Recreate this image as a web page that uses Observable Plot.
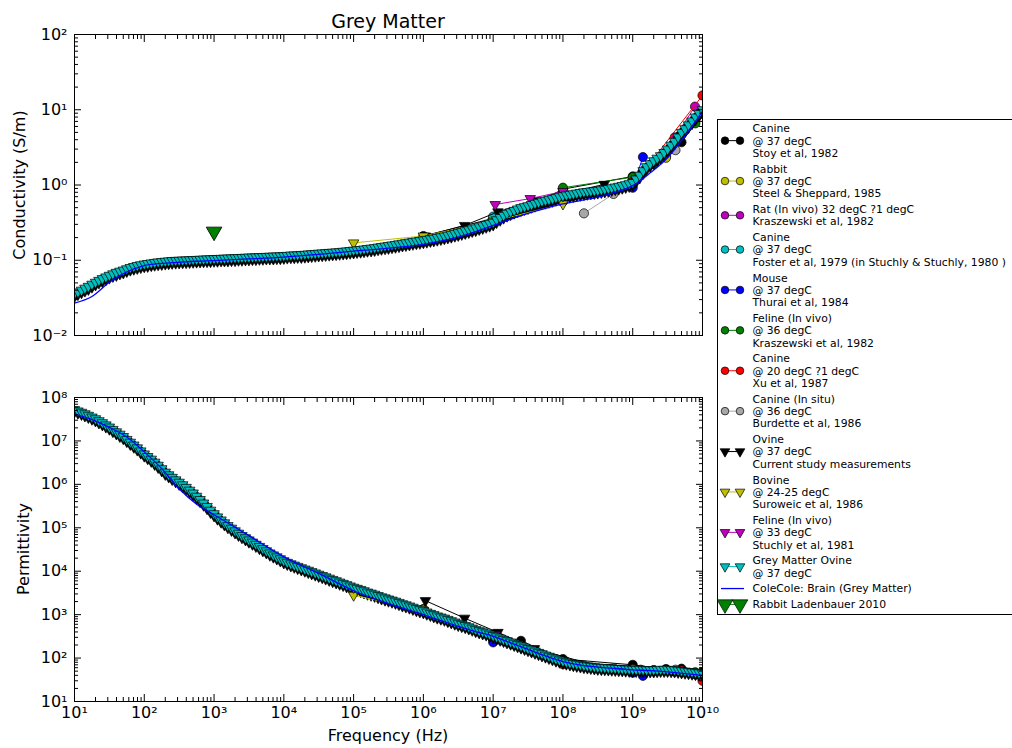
<!DOCTYPE html>
<html>
<head>
<meta charset="utf-8">
<script src="https://cdn.jsdelivr.net/npm/d3@7"></script>
<script src="https://cdn.jsdelivr.net/npm/@observablehq/plot@0.6"></script>
<style>
  body { margin: 0; background: #fff; }
  #fig { position: relative; width: 1012px; height: 748px; overflow: hidden; background: #fff;
         font-family: "DejaVu Sans", sans-serif; color: #000; }
  #fig > svg { position: absolute; }
  .lbl { position: absolute; white-space: nowrap; line-height: 1; }
</style>
</head>
<body>
<div id="fig"></div>
<script>
// ---------------------------------------------------------------------------
// Axis ticks and labels
const freqTicks = [1e1, 1e2, 1e3, 1e4, 1e5, 1e6, 1e7, 1e8, 1e9, 1e10];
const freqTickLabels = ["10¹", "10²", "10³", "10⁴", "10⁵", "10⁶", "10⁷", "10⁸", "10⁹", "10¹⁰"];
const sigmaTicks = [1e-2, 1e-1, 1e0, 1e1, 1e2];
const sigmaTickLabels = ["10⁻²", "10⁻¹", "10⁰", "10¹", "10²"];
const epsTicks = [1e1, 1e2, 1e3, 1e4, 1e5, 1e6, 1e7, 1e8];
const epsTickLabels = ["10¹", "10²", "10³", "10⁴", "10⁵", "10⁶", "10⁷", "10⁸"];

// ---------------------------------------------------------------------------
// Ovine sweep frequencies (10 Hz – 10 GHz, 20 per decade)
const sweepHz = [
  1e1, 1.12e1, 1.26e1, 1.41e1, 1.58e1, 1.78e1, 2e1, 2.24e1, 2.51e1, 2.82e1, 3.16e1, 3.55e1, 3.98e1, 4.47e1, 5.01e1, 5.62e1, 6.31e1, 7.08e1, 7.94e1, 8.91e1,
  1e2, 1.12e2, 1.26e2, 1.41e2, 1.58e2, 1.78e2, 2e2, 2.24e2, 2.51e2, 2.82e2, 3.16e2, 3.55e2, 3.98e2, 4.47e2, 5.01e2, 5.62e2, 6.31e2, 7.08e2, 7.94e2, 8.91e2,
  1e3, 1.12e3, 1.26e3, 1.41e3, 1.58e3, 1.78e3, 2e3, 2.24e3, 2.51e3, 2.82e3, 3.16e3, 3.55e3, 3.98e3, 4.47e3, 5.01e3, 5.62e3, 6.31e3, 7.08e3, 7.94e3, 8.91e3,
  1e4, 1.12e4, 1.26e4, 1.41e4, 1.58e4, 1.78e4, 2e4, 2.24e4, 2.51e4, 2.82e4, 3.16e4, 3.55e4, 3.98e4, 4.47e4, 5.01e4, 5.62e4, 6.31e4, 7.08e4, 7.94e4, 8.91e4,
  1e5, 1.12e5, 1.26e5, 1.41e5, 1.58e5, 1.78e5, 2e5, 2.24e5, 2.51e5, 2.82e5, 3.16e5, 3.55e5, 3.98e5, 4.47e5, 5.01e5, 5.62e5, 6.31e5, 7.08e5, 7.94e5, 8.91e5,
  1e6, 1.12e6, 1.26e6, 1.41e6, 1.58e6, 1.78e6, 2e6, 2.24e6, 2.51e6, 2.82e6, 3.16e6, 3.55e6, 3.98e6, 4.47e6, 5.01e6, 5.62e6, 6.31e6, 7.08e6, 7.94e6, 8.91e6,
  1e7, 1.12e7, 1.26e7, 1.41e7, 1.58e7, 1.78e7, 2e7, 2.24e7, 2.51e7, 2.82e7, 3.16e7, 3.55e7, 3.98e7, 4.47e7, 5.01e7, 5.62e7, 6.31e7, 7.08e7, 7.94e7, 8.91e7,
  1e8, 1.12e8, 1.26e8, 1.41e8, 1.58e8, 1.78e8, 2e8, 2.24e8, 2.51e8, 2.82e8, 3.16e8, 3.55e8, 3.98e8, 4.47e8, 5.01e8, 5.62e8, 6.31e8, 7.08e8, 7.94e8, 8.91e8,
  1e9, 1.12e9, 1.26e9, 1.41e9, 1.58e9, 1.78e9, 2e9, 2.24e9, 2.51e9, 2.82e9, 3.16e9, 3.55e9, 3.98e9, 4.47e9, 5.01e9, 5.62e9, 6.31e9, 7.08e9, 7.94e9, 8.91e9,
  1e10
];
// Grey Matter Ovine @ 37 degC – conductivity (S/m)
const greyOvineSigma = [
  0.036, 0.038, 0.040, 0.0425, 0.045, 0.048, 0.051, 0.054, 0.057, 0.060, 0.063, 0.066, 0.069, 0.0715, 0.074, 0.077, 0.080, 0.0825, 0.085, 0.087,
  0.089, 0.0905, 0.092, 0.0935, 0.095, 0.096, 0.097, 0.098, 0.099, 0.0995, 0.100, 0.1005, 0.101, 0.1015, 0.102, 0.1025, 0.103, 0.1035, 0.104, 0.1045,
  0.105, 0.1055, 0.106, 0.1065, 0.107, 0.1075, 0.108, 0.1085, 0.109, 0.1095, 0.110, 0.1105, 0.111, 0.1115, 0.112, 0.1125, 0.113, 0.1135, 0.114, 0.1145,
  0.115, 0.116, 0.117, 0.1175, 0.118, 0.119, 0.120, 0.121, 0.122, 0.123, 0.124, 0.125, 0.126, 0.127, 0.128, 0.129, 0.130, 0.1315, 0.133, 0.1345,
  0.136, 0.1375, 0.139, 0.141, 0.143, 0.145, 0.147, 0.1495, 0.152, 0.1545, 0.157, 0.1595, 0.162, 0.165, 0.168, 0.171, 0.174, 0.177, 0.180, 0.183,
  0.186, 0.1895, 0.193, 0.197, 0.201, 0.2055, 0.210, 0.2155, 0.221, 0.227, 0.233, 0.240, 0.247, 0.2545, 0.262, 0.270, 0.279, 0.288, 0.298, 0.309,
  0.320, 0.345, 0.370, 0.395, 0.420, 0.440, 0.460, 0.480, 0.500, 0.515, 0.530, 0.550, 0.570, 0.590, 0.610, 0.625, 0.640, 0.660, 0.680, 0.700,
  0.720, 0.735, 0.750, 0.765, 0.780, 0.795, 0.810, 0.820, 0.830, 0.840, 0.850, 0.865, 0.880, 0.900, 0.920, 0.940, 0.960, 0.985, 1.010, 1.040,
  1.08, 1.20, 1.35, 1.55, 1.75, 1.92, 2.10, 2.27, 2.45, 2.70, 3.00, 3.38, 3.80, 4.35, 5.00, 5.60, 6.30, 7.10, 8.00, 8.95,
  10.0
];
// Grey Matter Ovine @ 37 degC – relative permittivity
const greyOvineEps = [
  5.25e7, 4.90e7, 4.57e7, 4.22e7, 3.89e7, 3.55e7, 3.24e7, 2.92e7, 2.63e7, 2.34e7, 2.09e7, 1.84e7, 1.62e7, 1.43e7, 1.26e7, 1.08e7, 9.33e6, 8.04e6, 6.92e6, 5.89e6,
  5.01e6, 4.37e6, 3.80e6, 3.24e6, 2.75e6, 2.29e6, 1.91e6, 1.66e6, 1.45e6, 1.27e6, 1.12e6, 9.77e5, 8.51e5, 7.33e5, 6.31e5, 5.31e5, 4.47e5, 3.72e5, 3.09e5, 2.54e5,
  2.11e5, 1.78e5, 1.51e5, 1.30e5, 1.12e5, 9.77e4, 8.51e4, 7.50e4, 6.61e4, 5.89e4, 5.25e4, 4.68e4, 4.17e4, 3.72e4, 3.31e4, 2.95e4, 2.63e4, 2.37e4, 2.14e4, 1.93e4,
  1.74e4, 1.60e4, 1.48e4, 1.38e4, 1.29e4, 1.20e4, 1.12e4, 1.05e4, 9.77e3, 9.12e3, 8.51e3, 7.94e3, 7.41e3, 6.92e3, 6.46e3, 6.03e3, 5.62e3, 5.25e3, 4.90e3, 4.57e3,
  4.27e3, 4.03e3, 3.80e3, 3.55e3, 3.31e3, 3.13e3, 2.95e3, 2.75e3, 2.57e3, 2.43e3, 2.29e3, 2.16e3, 2.04e3, 1.91e3, 1.78e3, 1.68e3, 1.58e3, 1.48e3, 1.38e3, 1.30e3,
  1.23e3, 1.15e3, 1.07e3, 1.00e3, 933, 881, 832, 776, 724, 676, 631, 596, 562, 525, 490, 457, 427, 403, 380, 355,
  331, 309, 288, 269, 251, 234, 219, 204, 191, 178, 166, 155, 145, 135, 126, 117, 110, 102, 95.5, 90.2,
  85.1, 81.3, 77.6, 75.0, 72.4, 70.0, 67.6, 66.1, 64.6, 63.1, 61.7, 61.0, 60.3, 59.6, 58.9, 58.2, 57.5, 56.9, 56.2, 55.6,
  55.0, 55.0, 55.0, 54.3, 53.7, 53.7, 53.7, 54.3, 55.0, 55.0, 55.0, 54.3, 53.7, 52.5, 51.3, 50.1, 49.0, 47.9, 46.8, 45.7,
  44.7
];
// Ovine @ 37 degC, current study measurements – conductivity (S/m)
const ovineSigma = [
  0.033, 0.035, 0.037, 0.039, 0.041, 0.044, 0.047, 0.050, 0.052, 0.055, 0.058, 0.061, 0.063, 0.066, 0.068, 0.071, 0.074, 0.076, 0.078, 0.080,
  0.082, 0.083, 0.085, 0.086, 0.087, 0.088, 0.089, 0.090, 0.091, 0.0915, 0.092, 0.0925, 0.093, 0.0935, 0.094, 0.0945, 0.095, 0.0955, 0.096, 0.096,
  0.097, 0.097, 0.098, 0.098, 0.098, 0.099, 0.099, 0.100, 0.100, 0.101, 0.101, 0.102, 0.102, 0.103, 0.103, 0.104, 0.104, 0.104, 0.105, 0.105,
  0.106, 0.107, 0.108, 0.108, 0.109, 0.109, 0.110, 0.111, 0.112, 0.113, 0.114, 0.115, 0.116, 0.117, 0.118, 0.119, 0.120, 0.121, 0.122, 0.124,
  0.125, 0.127, 0.128, 0.130, 0.132, 0.133, 0.135, 0.138, 0.140, 0.142, 0.144, 0.147, 0.149, 0.152, 0.155, 0.157, 0.160, 0.163, 0.166, 0.168,
  0.171, 0.174, 0.178, 0.181, 0.185, 0.189, 0.193, 0.198, 0.203, 0.209, 0.214, 0.221, 0.227, 0.234, 0.241, 0.248, 0.257, 0.265, 0.274, 0.284,
  0.294, 0.317, 0.340, 0.363, 0.386, 0.405, 0.423, 0.442, 0.460, 0.474, 0.488, 0.506, 0.524, 0.543, 0.561, 0.575, 0.589, 0.607, 0.626, 0.644,
  0.662, 0.676, 0.690, 0.704, 0.718, 0.731, 0.745, 0.754, 0.764, 0.773, 0.782, 0.796, 0.810, 0.828, 0.846, 0.865, 0.883, 0.906, 0.929, 0.957,
  0.994, 1.10, 1.24, 1.43, 1.61, 1.77, 1.93, 2.09, 2.25, 2.48, 2.76, 3.11, 3.50, 4.00, 4.60, 5.15, 5.80, 6.53, 7.36, 8.23,
  9.20
];
// Ovine @ 37 degC, current study measurements – relative permittivity
const ovineEps = [
  4.68e7, 4.37e7, 4.07e7, 3.76e7, 3.47e7, 3.16e7, 2.88e7, 2.60e7, 2.34e7, 2.09e7, 1.86e7, 1.64e7, 1.45e7, 1.27e7, 1.12e7, 9.66e6, 8.32e6, 7.16e6, 6.17e6, 5.25e6,
  4.47e6, 3.89e6, 3.39e6, 2.88e6, 2.45e6, 2.04e6, 1.70e6, 1.48e6, 1.29e6, 1.14e6, 1.00e6, 8.71e5, 7.59e5, 6.53e5, 5.62e5, 4.73e5, 3.98e5, 3.31e5, 2.75e5, 2.26e5,
  1.88e5, 1.58e5, 1.35e5, 1.16e5, 1.00e5, 8.71e4, 7.59e4, 6.68e4, 5.89e4, 5.25e4, 4.68e4, 4.17e4, 3.72e4, 3.31e4, 2.95e4, 2.63e4, 2.34e4, 2.11e4, 1.91e4, 1.72e4,
  1.55e4, 1.43e4, 1.32e4, 1.23e4, 1.15e4, 1.07e4, 1.00e4, 9.33e3, 8.71e3, 8.13e3, 7.59e3, 7.08e3, 6.61e3, 6.17e3, 5.75e3, 5.37e3, 5.01e3, 4.68e3, 4.37e3, 4.07e3,
  3.80e3, 3.59e3, 3.39e3, 3.16e3, 2.95e3, 2.79e3, 2.63e3, 2.45e3, 2.29e3, 2.16e3, 2.04e3, 1.93e3, 1.82e3, 1.70e3, 1.58e3, 1.50e3, 1.41e3, 1.32e3, 1.23e3, 1.16e3,
  1.10e3, 1.02e3, 955, 891, 832, 785, 741, 692, 646, 603, 562, 531, 501, 468, 437, 407, 380, 359, 339, 316,
  295, 275, 257, 240, 224, 209, 195, 182, 170, 158, 148, 138, 129, 120, 112, 105, 97.7, 91.2, 85.1, 80.4,
  75.9, 72.4, 69.2, 66.8, 64.6, 62.4, 60.3, 58.9, 57.5, 56.2, 55.0, 54.3, 53.7, 53.1, 52.5, 51.9, 51.3, 50.7, 50.1, 49.5,
  49.0, 49.0, 49.0, 48.4, 47.9, 47.9, 47.9, 48.4, 49.0, 49.0, 49.0, 48.4, 47.9, 46.8, 45.7, 44.7, 43.7, 42.7, 41.7, 40.7,
  39.8
];
// Ovine spot measurements
const ovineSpotHz = [1.07e6, 3.9e6, 1.17e7, 3.9e7, 3.9e8];
const ovineSpotSigma = [0.21, 0.29, 0.44, 0.62, 1.02];
const ovineSpotEps = [2100, 830, 390, 165, 60];

// ---------------------------------------------------------------------------
// Literature data
const stoyHz = [1e6, 1e7, 2.5e7, 1e8, 1e9, 3e9, 5e9, 1e10];
const stoySigma = [0.21, 0.36, 0.46, 0.88, 1.30, 2.4, 3.7, 8.8];
const stoyEps = [1350, 270, 250, 95, 70, 56, 57, 48];

const steelHz = [1e6, 1e7, 1e8, 1e9, 3e9];
const steelSigma = [0.20, 0.33, 0.72, 1.10, 2.3];
const steelEps = [1300, 330, 88, 55, 52];

const ratHz = [2e9, 4e9, 7.8e9];
const ratSigma = [1.9, 4.3, 11.0];
const ratEps = [52, 50, 46];

const fosterHz = [1e7, 1e8, 1e9];
const fosterSigma = [0.38, 0.74, 1.10];
const fosterEps = [340, 88, 56];

const thuraiHz = [1e7, 1e8, 1e9, 1.4e9];
const thuraiSigma = [0.31, 0.60, 0.92, 2.35];
const thuraiEps = [230, 80, 46, 39];

const felineKHz = [1e8, 1e9, 2e9, 4e9, 7.9e9];
const felineKSigma = [0.92, 1.27, 1.9, 3.5, 6.6];
const felineKEps = [85, 56, 53, 50, 47];

const xuSigmaHz = [1e8, 1e9, 1.3e9, 1e10];
const xuSigma = [0.72, 1.10, 1.35, 15.5];
const xuEpsHz = [1e8, 1e9, 1.3e9, 5e9, 8e9, 1e10];
const xuEps = [72, 56, 54, 52, 42, 30];

const burdetteHz = [2e8, 5.3e8, 1e9, 4.1e9];
const burdetteSigma = [0.42, 0.76, 1.05, 2.9];
const burdetteEps = [68, 58, 55, 54];

const suroweicHz = [1e5, 1e6, 1e7, 1e8];
const suroweicSigma = [0.17, 0.21, 0.33, 0.56];
const suroweicEps = [2800, 1250, 320, 88];

const stuchlyHz = [1.07e7, 3.4e7, 1e8];
const stuchlySigma = [0.55, 0.66, 0.82];
const stuchlyEps = [350, 160, 88];

const ladenbauerHz = [1e3];
const ladenbauerSigma = [0.24];

// Cole-Cole model, brain grey matter
const coleHz = [
  10, 17.8, 31.6, 56.2, 100, 178, 316, 562, 1e3, 3.16e3, 1e4, 3.16e4, 1e5, 3.16e5,
  1e6, 1.78e6, 3.16e6, 5.62e6, 1e7, 1.78e7, 3.16e7, 5.62e7,
  1e8, 1.78e8, 3.16e8, 5.62e8, 1e9, 1.78e9, 3.16e9, 5.62e9, 1e10
];
const coleSigma = [
  0.027, 0.033, 0.051, 0.070, 0.085, 0.091, 0.094, 0.097, 0.099, 0.104, 0.110, 0.120, 0.132, 0.145,
  0.163, 0.180, 0.203, 0.240, 0.290, 0.350, 0.420, 0.490,
  0.560, 0.620, 0.690, 0.800, 0.980, 1.45, 2.30, 4.50, 9.50
];
const coleEps = [
  4.2e7, 3.1e7, 2.05e7, 1.23e7, 5.6e6, 2.3e6, 7.9e5, 3.5e5, 2.0e5, 6.6e4, 2.14e4, 8.9e3, 3.55e3, 1.8e3,
  1.0e3, 724, 537, 407, 316, 224, 158, 112,
  83, 69, 62, 57.5, 53.7, 51.3, 47.9, 43.7, 39.8
];

// ---------------------------------------------------------------------------
// Series styling, in drawing order
const zip = (fs, vs) => fs.map((f, i) => ({f, v: vs[i]}));
const Y = "#bfbf00", M = "#bf00bf", C = "#00bfbf", G = "#008000", GREY = "#a8a8a8";

const series = [
  {name: ["Canine", "@ 37 degC", "Stoy et al, 1982"], color: "#000", marker: "circle",
   sigma: zip(stoyHz, stoySigma), eps: zip(stoyHz, stoyEps)},
  {name: ["Rabbit", "@ 37 degC", "Steel & Sheppard, 1985"], color: Y, marker: "circle",
   sigma: zip(steelHz, steelSigma), eps: zip(steelHz, steelEps)},
  {name: ["Rat (In vivo) 32 degC ?1 degC", "Kraszewski et al, 1982"], color: M, marker: "circle",
   sigma: zip(ratHz, ratSigma), eps: zip(ratHz, ratEps)},
  {name: ["Canine", "@ 37 degC", "Foster et al, 1979 (in Stuchly & Stuchly, 1980 )"], color: C, marker: "circle",
   sigma: zip(fosterHz, fosterSigma), eps: zip(fosterHz, fosterEps)},
  {name: ["Mouse", "@ 37 degC", "Thurai et al, 1984"], color: "#0000ff", marker: "circle",
   sigma: zip(thuraiHz, thuraiSigma), eps: zip(thuraiHz, thuraiEps)},
  {name: ["Feline (In vivo)", "@ 36 degC", "Kraszewski et al, 1982"], color: G, marker: "circle",
   sigma: zip(felineKHz, felineKSigma), eps: zip(felineKHz, felineKEps)},
  {name: ["Canine", "@ 20 degC ?1 degC", "Xu et al, 1987"], color: "#ff0000", marker: "circle",
   sigma: zip(xuSigmaHz, xuSigma), eps: zip(xuEpsHz, xuEps)},
  {name: ["Canine (In situ)", "@ 36 degC", "Burdette et al, 1986"], color: GREY, marker: "circle",
   sigma: zip(burdetteHz, burdetteSigma), eps: zip(burdetteHz, burdetteEps)},
  {name: ["Ovine", "@ 37 degC", "Current study measurements"], color: "#000", marker: "triangle",
   sigma: zip(sweepHz, ovineSigma), eps: zip(sweepHz, ovineEps),
   extra: {sigma: zip(ovineSpotHz, ovineSpotSigma), eps: zip(ovineSpotHz, ovineSpotEps)}},
  {name: ["Bovine", "@ 24-25 degC", "Suroweic et al, 1986"], color: Y, marker: "triangle",
   sigma: zip(suroweicHz, suroweicSigma), eps: zip(suroweicHz, suroweicEps)},
  {name: ["Feline (In vivo)", "@ 33 degC", "Stuchly et al, 1981"], color: M, marker: "triangle",
   sigma: zip(stuchlyHz, stuchlySigma), eps: zip(stuchlyHz, stuchlyEps)},
  {name: ["Grey Matter Ovine", "@ 37 degC"], color: C, marker: "triangle",
   sigma: zip(sweepHz, greyOvineSigma), eps: zip(sweepHz, greyOvineEps)},
  {name: ["ColeCole: Brain (Grey Matter)"], color: "#0000ff", marker: "line",
   sigma: zip(coleHz, coleSigma), eps: zip(coleHz, coleEps)},
  {name: ["Rabbit Ladenbauer 2010"], color: G, marker: "bigtriangle",
   sigma: zip(ladenbauerHz, ladenbauerSigma), eps: []}
];

// ---------------------------------------------------------------------------
function seriesMarks(s, rows) {
  const out = [];
  if (!rows.length) return out;
  if (rows.length > 1) {
    out.push(Plot.line(rows, {x: "f", y: "v", stroke: s.color,
      strokeWidth: s.marker === "line" ? 1.3 : 1,
      curve: s.marker === "line" ? "monotone-x" : "linear", clip: true}));
  }
  if (s.marker === "circle") {
    out.push(Plot.dot(rows, {x: "f", y: "v", r: 4.6, fill: s.color, stroke: "#000",
      strokeWidth: 0.7, clip: true}));
  } else if (s.marker === "triangle") {
    out.push(Plot.dot(rows, {x: "f", y: "v", symbol: "triangle", r: 3.9, rotate: 180,
      fill: s.color, stroke: "#000", strokeWidth: 0.7, clip: true}));
  } else if (s.marker === "bigtriangle") {
    out.push(Plot.dot(rows, {x: "f", y: "v", symbol: "triangle", r: 5.8, rotate: 180,
      fill: s.color, stroke: "#000", strokeWidth: 0.8, clip: true}));
  }
  return out;
}

function minorTicks(lo, hi) {
  const t = [];
  for (let e = lo; e < hi; e++) for (let m = 2; m <= 9; m++) t.push(m * Math.pow(10, e));
  return t;
}

function panel({key, yTicks, yLabels, yLo, yHi, height, marginTop, marginBottom, xLabels}) {
  const xFmt = new Map(freqTicks.map((d, i) => [d, freqTickLabels[i]]));
  const yFmt = new Map(yTicks.map((d, i) => [d, yLabels[i]]));
  const marks = [];
  for (const s of series) {
    marks.push(...seriesMarks(s, s[key]));
    if (s.extra) marks.push(...seriesMarks(s, s.extra[key]));
  }
  const tick = (o) => ({tickFormat: null, fill: "none", label: null, strokeWidth: 1, ...o});
  marks.push(
    Plot.frame({stroke: "#000", strokeWidth: 1}),
    // inward major / minor ticks on all four sides
    Plot.axisX(tick({anchor: "bottom", ticks: freqTicks, tickSize: -7})),
    Plot.axisX(tick({anchor: "top", ticks: freqTicks, tickSize: -7})),
    Plot.axisX(tick({anchor: "bottom", ticks: minorTicks(1, 10), tickSize: -4})),
    Plot.axisX(tick({anchor: "top", ticks: minorTicks(1, 10), tickSize: -4})),
    Plot.axisY(tick({anchor: "left", ticks: yTicks, tickSize: -7})),
    Plot.axisY(tick({anchor: "right", ticks: yTicks, tickSize: -7})),
    Plot.axisY(tick({anchor: "left", ticks: minorTicks(yLo, yHi), tickSize: -4})),
    Plot.axisY(tick({anchor: "right", ticks: minorTicks(yLo, yHi), tickSize: -4})),
    Plot.axisY({anchor: "left", ticks: yTicks, tickSize: 0, tickPadding: 7,
      tickFormat: (d) => yFmt.get(d), label: null, fontSize: 16})
  );
  if (xLabels) {
    marks.push(Plot.axisX({anchor: "bottom", ticks: freqTicks, tickSize: 0, tickPadding: 5.5,
      tickFormat: (d) => xFmt.get(d), label: null, fontSize: 16}));
  }
  return Plot.plot({
    width: 720, height,
    marginLeft: 74, marginRight: 18, marginTop, marginBottom,
    style: {fontFamily: "'DejaVu Sans', sans-serif", fontSize: "16px", overflow: "visible",
            background: "transparent", color: "#000"},
    x: {type: "log", domain: [1e1, 1e10]},
    y: {type: "log", domain: [Math.pow(10, yLo), Math.pow(10, yHi)]},
    marks
  });
}

const fig = document.getElementById("fig");

const sigmaPanel = panel({key: "sigma", yTicks: sigmaTicks, yLabels: sigmaTickLabels, yLo: -2, yHi: 2,
  height: 360, marginTop: 34, marginBottom: 25, xLabels: false});
sigmaPanel.style.left = "0px"; sigmaPanel.style.top = "0px";
fig.appendChild(sigmaPanel);

const epsPanel = panel({key: "eps", yTicks: epsTicks, yLabels: epsTickLabels, yLo: 1, yHi: 8,
  height: 370, marginTop: 27, marginBottom: 39, xLabels: true});
epsPanel.style.left = "0px"; epsPanel.style.top = "370px";
fig.appendChild(epsPanel);

// ---------------------------------------------------------------------------
// Titles and axis labels
function label(text, x, y, size, rotate) {
  const d = document.createElement("div");
  d.className = "lbl";
  d.textContent = text;
  d.style.fontSize = size + "px";
  d.style.left = x + "px";
  d.style.top = y + "px";
  d.style.transform = `translate(-50%, -50%)${rotate ? " rotate(-90deg)" : ""}`;
  fig.appendChild(d);
}
label("Grey Matter", 388, 21, 19, false);
label("Conductivity (S/m)", 20, 185, 16, true);
label("Permittivity", 24, 549, 16, true);
label("Frequency (Hz)", 388, 736, 16, false);

// ---------------------------------------------------------------------------
// Legend
const LX = 717, LY = 119, LW = 300, LH = 496;
const lineH = 12.3, gap = 3.5, fs = 10.8;
const leg = d3.create("svg")
  .attr("width", LW).attr("height", LH)
  .style("left", LX + "px").style("top", LY + "px")
  .style("font-family", "'DejaVu Sans', sans-serif").style("font-size", fs + "px");
leg.append("rect").attr("x", 0.5).attr("y", 0.5).attr("width", LW).attr("height", LH - 1)
  .attr("fill", "#fff").attr("stroke", "#000").attr("stroke-width", 1);

let yCur = 3.2;
const sym = d3.symbol();
for (const s of series) {
  const n = s.name.length;
  const h = n * lineH;
  const cy = yCur + h / 2;
  const g = leg.append("g");
  const m1 = 8, m2 = 23;
  if (s.marker === "line") {
    g.append("line").attr("x1", 4).attr("x2", 27).attr("y1", cy).attr("y2", cy)
      .attr("stroke", s.color).attr("stroke-width", 1.3);
  } else {
    g.append("line").attr("x1", m1).attr("x2", m2).attr("y1", cy).attr("y2", cy)
      .attr("stroke", s.color).attr("stroke-width", 1);
    for (const mx of [m1, m2]) {
      if (s.marker === "circle") {
        g.append("circle").attr("cx", mx).attr("cy", cy).attr("r", 3.8)
          .attr("fill", s.color).attr("stroke", "#000").attr("stroke-width", 0.7);
      } else {
        const r = s.marker === "bigtriangle" ? 5.8 : 3.6;
        g.append("path")
          .attr("d", sym.type(d3.symbolTriangle).size(Math.PI * r * r)())
          .attr("transform", `translate(${mx},${cy}) rotate(180)`)
          .attr("fill", s.color).attr("stroke", "#000").attr("stroke-width", 0.7);
      }
    }
  }
  s.name.forEach((t, i) => {
    g.append("text").attr("x", 35.5).attr("y", yCur + lineH * i + lineH / 2 + 3.9)
      .attr("fill", "#000").text(t);
  });
  yCur += h + gap;
}
fig.appendChild(leg.node());
</script>
</body>
</html>
